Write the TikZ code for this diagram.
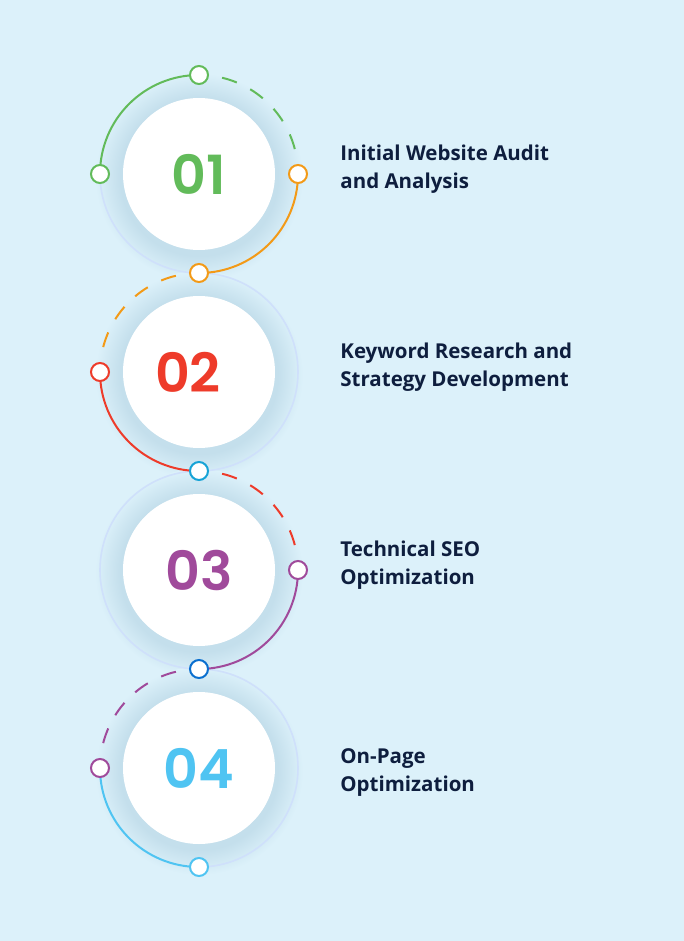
\documentclass[tikz,border=0pt]{standalone}
\usepackage{fontspec}
\setmainfont{Open Sans}[Ligatures=NoCommon]
\newfontfamily\numfont{Poppins SemiBold}
\usetikzlibrary{positioning}
\definecolor{bg}{HTML}{DCF1FA}
\definecolor{glow}{HTML}{C4DFEC}
\definecolor{ring}{HTML}{CFE0FB}
\definecolor{cgreen}{HTML}{62BB5A}
\definecolor{corange}{HTML}{F39A17}
\definecolor{cred}{HTML}{EE3B2A}
\definecolor{cpurple}{HTML}{A04A9B}
\definecolor{ccyan}{HTML}{17A3D6}
\definecolor{cblue}{HTML}{0A6FCF}
\definecolor{clight}{HTML}{4FC4F2}
\definecolor{navy}{HTML}{0E1E3E}
\pgfdeclareradialshading{halo}{\pgfpoint{0bp}{0bp}}{color(0bp)=(glow); color(19bp)=(glow); color(25bp)=(bg); color(50bp)=(bg)}

\begin{document}
\begin{tikzpicture}[x=1pt,y=-1pt,
	disc/.style={circle,fill=white,minimum size=152pt,inner sep=0pt},
	num/.style={font=\numfont\fontsize{54}{54}\selectfont,inner sep=0pt},
	dot/.style={circle,draw=#1,fill=white,line width=2pt,minimum size=18pt,inner sep=0pt},
	arcline/.style={line width=2pt},
	dashline/.style={line width=2pt,dash pattern=on 15.5pt off 15pt},
	faint/.style={draw=ring,line width=1.6pt},
	steptext/.style={text=navy,align=left,inner sep=0pt,font=\bfseries\fontsize{20.5}{28}\selectfont}]
	\fill[bg] (0,0) rectangle (684,941);
	\useasboundingbox (0,0) rectangle (684,941);
	\coordinate (c1) at (199,174);
	\coordinate (c2) at (199,372);
	\coordinate (c3) at (199,570);
	\coordinate (c4) at (199,768);
	\shade[shading=halo] ([yshift=-3pt]c1) circle[radius=104];
	\shade[shading=halo] ([yshift=-3pt]c2) circle[radius=104];
	\shade[shading=halo] ([yshift=-3pt]c3) circle[radius=104];
	\shade[shading=halo] ([yshift=-3pt]c4) circle[radius=104];
	\coordinate (p1l) at (100,174);
	\coordinate (p1t) at (199,75);
	\coordinate (p1r) at (298,174);
	\coordinate (p2t) at (199,273);
	\coordinate (p2l) at (100,372);
	\coordinate (p3t) at (199,471);
	\coordinate (p3r) at (298,570);
	\coordinate (p4t) at (199,669);
	\coordinate (p4l) at (100,768);
	\coordinate (p4b) at (199,867);
	\draw[faint] (p1l) arc[start angle=180,end angle=90,radius=99];
	\draw[faint] (p2t) arc[start angle=270,end angle=450,radius=99];
	\draw[faint] (p3t) arc[start angle=270,end angle=90,radius=99];
	\draw[faint] (p4t) arc[start angle=270,end angle=450,radius=99];
	\draw[arcline,cgreen] (p1l) arc[start angle=180,end angle=270,radius=99];
	\draw[dashline,cgreen] (c1) ++(283.5:99) arc[start angle=283.5,end angle=346.5,radius=99];
	\draw[arcline,corange] (p1r) arc[start angle=0,end angle=90,radius=99];
	\draw[dashline,corange] (c2) ++(256.5:99) arc[start angle=256.5,end angle=193.5,radius=99];
	\draw[arcline,cred] (p2l) arc[start angle=180,end angle=90,radius=99];
	\draw[dashline,cred] (c3) ++(283.5:99) arc[start angle=283.5,end angle=346.5,radius=99];
	\draw[arcline,cpurple] (p3r) arc[start angle=0,end angle=90,radius=99];
	\draw[dashline,cpurple] (c4) ++(256.5:99) arc[start angle=256.5,end angle=193.5,radius=99];
	\draw[arcline,clight] (p4l) arc[start angle=180,end angle=90,radius=99];
	\node[disc] (n1) at (c1) {};
	\node[disc] (n2) at (c2) {};
	\node[disc] (n3) at (c3) {};
	\node[disc] (n4) at (c4) {};
	\node[num,text=cgreen] (m1) at (n1) {01};
	\node[num,text=cred] (m2) at ([xshift=-11pt]n2.center) {02};
	\node[num,text=cpurple] (m3) at (n3) {03};
	\node[num,text=clight] (m4) at (n4) {04};
	\node[dot=cgreen] (d1l) at (p1l) {};
	\node[dot=cgreen] (d1t) at (p1t) {};
	\node[dot=corange] (d1r) at (p1r) {};
	\node[dot=corange] (d2t) at (p2t) {};
	\node[dot=cred] (d2l) at (p2l) {};
	\node[dot=ccyan] (d3t) at (p3t) {};
	\node[dot=cpurple] (d3r) at (p3r) {};
	\node[dot=cblue] (d4t) at (p4t) {};
	\node[dot=cpurple] (d4l) at (p4l) {};
	\node[dot=clight] (d4b) at (p4b) {};
	\node[steptext,right=65pt of n1,yshift=5pt] (t1) {Initial Website Audit\\and Analysis};
	\node[steptext,right=65pt of n2,yshift=5pt] (t2) {Keyword Research and\\Strategy Development};
	\node[steptext,right=65pt of n3,yshift=5pt] (t3) {Technical SEO\\Optimization};
	\node[steptext,right=65pt of n4,yshift=-5pt] (t4) {On-Page\\Optimization};
\end{tikzpicture}
\end{document}
